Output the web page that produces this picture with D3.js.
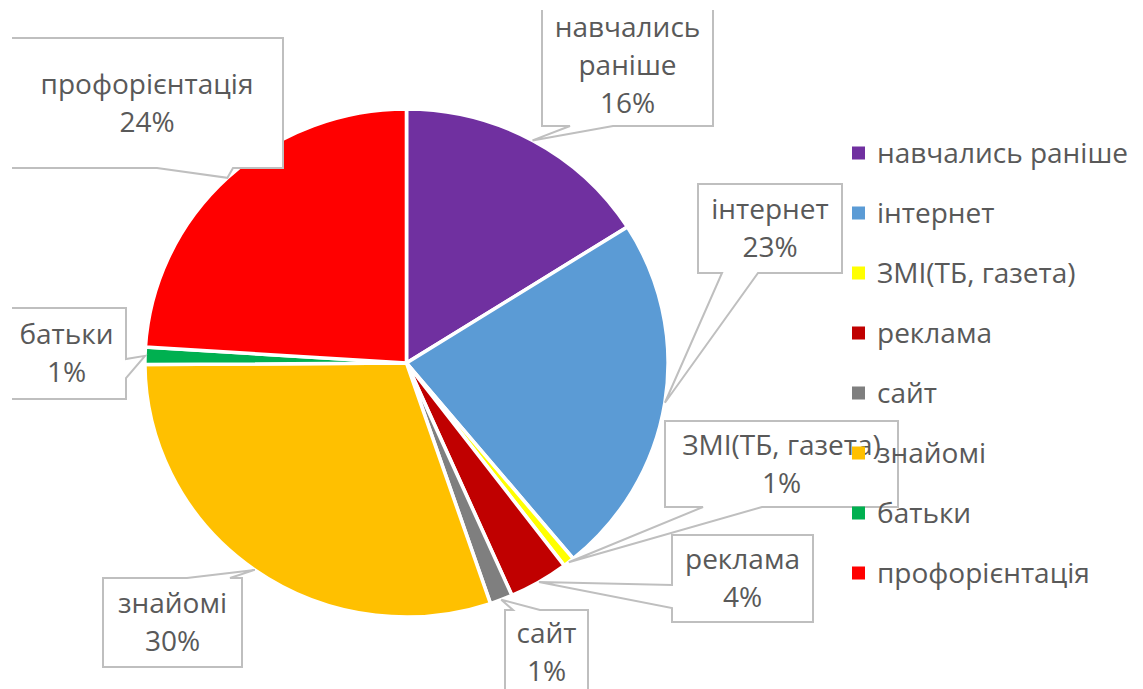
<!DOCTYPE html>
<html>
<head>
<meta charset="utf-8">
<script src="https://cdn.jsdelivr.net/npm/d3@7"></script>
<style>
  body { margin: 0; background: #fff; }
  text { font-family: "Open Sans", sans-serif; }
</style>
</head>
<body>
<svg id="chart" width="1143" height="689"></svg>
<script>
// values (percent of answers)
const categories = ['навчались раніше', 'інтернет', 'ЗМІ(ТБ, газета)', 'реклама', 'сайт', 'знайомі', 'батьки', 'профорієнтація'];
const shares     = [16.0, 23.0, 0.7, 3.7, 1.4, 30.1, 1.1, 24.0];
const colors     = ['#7030A0', '#5B9BD5', '#FFFF00', '#C00000', '#7F7F7F', '#FFC000', '#00B050', '#FF0000'];

// callout boxes (same order as categories): box, side of the tail, tail base offsets
const callouts = [
  { x: 542, y: 4,   w: 171, h: 122, side: 'bottom', t: [28, 71] },
  { x: 698, y: 184, w: 144, h: 89,  side: 'bottom', t: [24, 60] },
  { x: 665, y: 421, w: 233, h: 86,  side: 'bottom', t: [38, 97] },
  { x: 672, y: 535, w: 141, h: 87,  side: 'left',   t: [50, 73] },
  { x: 505, y: 610, w: 83,  h: 84,  side: 'top',    t: [8, 35] },
  { x: 103, y: 578, w: 139, h: 89,  side: 'top',    t: [84, 127] },
  { x: 7,   y: 308, w: 119, h: 91,  side: 'right',  t: [51, 70] },
  { x: 11,  y: 38,  w: 272, h: 130, side: 'bottom', t: [146, 222] },
];

const width = 1143, height = 689;
const cx = 406.5, cy = 363, R = 254, sx = 1.03;
const fontSize = 28, lineH = 38;
const textColor = '#595959', boxColor = '#bfbfbf';

const svg = d3.select('#chart');

const pie = d3.pie().sort(null).value(d => d);
const arcs = pie(shares);
const arc = d3.arc().innerRadius(0).outerRadius(R);

// pie
svg.append('g')
  .attr('transform', `translate(${cx},${cy}) scale(${sx},1)`)
  .selectAll('path')
  .data(arcs)
  .join('path')
  .attr('d', arc)
  .attr('fill', (d, i) => colors[i])
  .attr('stroke', '#fff')
  .attr('stroke-width', 3.5);

// callouts
svg.append('clipPath').attr('id', 'clip')
  .append('rect').attr('x', 12).attr('y', 10).attr('width', width - 12).attr('height', height - 10);

const labels = svg.append('g').attr('clip-path', 'url(#clip)');

function anchorOf(a) {
  const p = d3.pointRadial((a.startAngle + a.endAngle) / 2, R);
  return [cx + p[0] * sx, cy + p[1]];
}

function calloutPath(c, an) {
  const p = d3.path();
  const x0 = c.x, y0 = c.y, x1 = c.x + c.w, y1 = c.y + c.h;
  p.moveTo(x0, y0);
  if (c.side === 'top') { p.lineTo(x0 + c.t[0], y0); p.lineTo(an[0], an[1]); p.lineTo(x0 + c.t[1], y0); }
  p.lineTo(x1, y0);
  if (c.side === 'right') { p.lineTo(x1, y0 + c.t[0]); p.lineTo(an[0], an[1]); p.lineTo(x1, y0 + c.t[1]); }
  p.lineTo(x1, y1);
  if (c.side === 'bottom') { p.lineTo(x0 + c.t[1], y1); p.lineTo(an[0], an[1]); p.lineTo(x0 + c.t[0], y1); }
  p.lineTo(x0, y1);
  if (c.side === 'left') { p.lineTo(x0, y0 + c.t[1]); p.lineTo(an[0], an[1]); p.lineTo(x0, y0 + c.t[0]); }
  p.closePath();
  return p.toString();
}

arcs.forEach((a, i) => {
  const c = callouts[i];
  const g = labels.append('g');
  g.append('path')
    .attr('d', calloutPath(c, anchorOf(a)))
    .attr('fill', '#fff')
    .attr('stroke', boxColor)
    .attr('stroke-width', 2)
    .attr('stroke-linejoin', 'miter');

  const t = g.append('text')
    .attr('text-anchor', 'middle')
    .attr('font-size', fontSize)
    .attr('fill', textColor);

  // greedy wrap of the category name inside the box
  const words = categories[i].split(' ');
  const lines = [];
  let cur = '';
  const probe = t.append('tspan');
  words.forEach(w => {
    const tryLine = cur ? cur + ' ' + w : w;
    probe.text(tryLine);
    if (cur && probe.node().getComputedTextLength() > c.w - 12) {
      lines.push(cur);
      cur = w;
    } else {
      cur = tryLine;
    }
  });
  lines.push(cur);
  probe.remove();
  lines.push(Math.round(shares[i]) + '%');

  const y0 = c.y + c.h / 2 - (lines.length - 1) * lineH / 2;
  t.selectAll('tspan')
    .data(lines)
    .join('tspan')
    .attr('x', c.x + c.w / 2)
    .attr('y', (d, k) => y0 + k * lineH)
    .attr('dy', '0.35em')
    .text(d => d);
});

// legend
const legend = svg.append('g')
  .attr('transform', 'translate(852,153)')
  .selectAll('g')
  .data(categories)
  .join('g')
  .attr('transform', (d, i) => `translate(0,${i * 60})`);

legend.append('rect')
  .attr('x', 0).attr('y', -6.5)
  .attr('width', 13).attr('height', 13)
  .attr('fill', (d, i) => colors[i]);

legend.append('text')
  .attr('x', 25)
  .attr('dy', '0.35em')
  .attr('font-size', fontSize)
  .attr('fill', textColor)
  .text(d => d);
</script>
</body>
</html>
